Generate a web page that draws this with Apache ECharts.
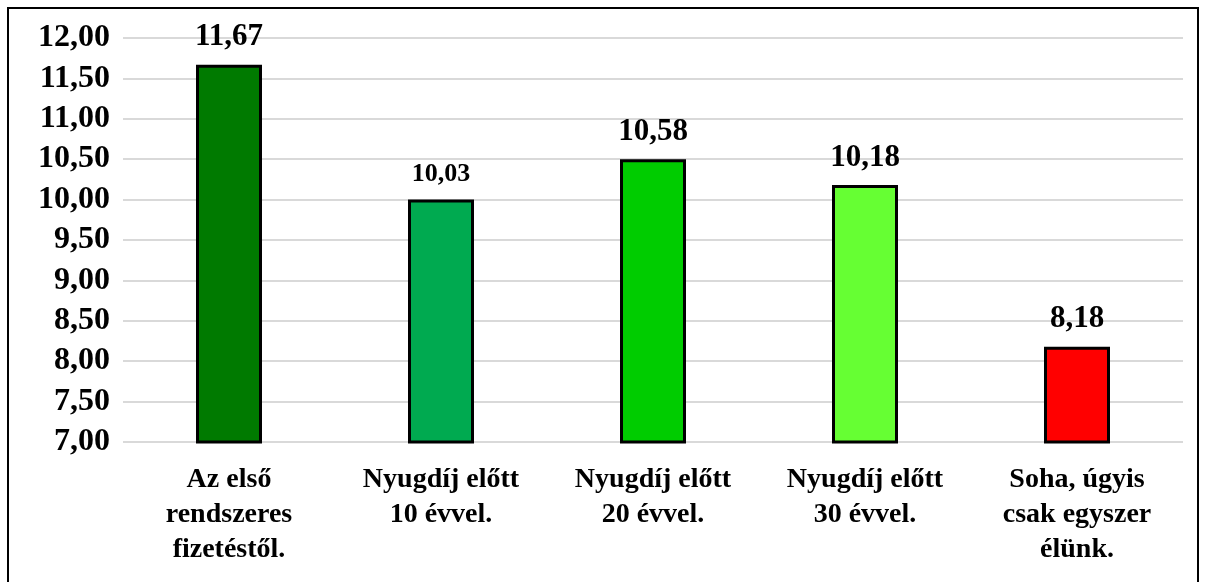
<!DOCTYPE html>
<html>
<head>
<meta charset="utf-8">
<script src="https://cdn.jsdelivr.net/npm/echarts@6/dist/echarts.min.js"></script>
<style>
html,body{margin:0;padding:0;background:#fff;}
#frame{position:absolute;left:7px;top:7px;width:1192px;height:590px;border:2px solid #000;box-sizing:border-box;}
#chart{position:absolute;left:0;top:0;width:1209px;height:582px;}
</style>
</head>
<body>
<div id="frame"></div>
<div id="chart"></div>
<script>
const categories = ['Az első\nrendszeres\nfizetéstől.', 'Nyugdíj előtt\n10 évvel.', 'Nyugdíj előtt\n20 évvel.', 'Nyugdíj előtt\n30 évvel.', 'Soha, úgyis\ncsak egyszer\nélünk.'];
const values = [11.67, 10.00, 10.50, 10.18, 8.18];
const valueLabels = ['11,67', '10,03', '10,58', '10,18', '8,18'];
const labelSizes = [31, 26, 31, 31, 31];
const barColors = ['#007A00', '#00AA50', '#00CC00', '#66FF33', '#FF0000'];

const chart = echarts.init(document.getElementById('chart'));
chart.setOption({
  animation: false,
  grid: { left: 123, right: 26, top: 38, bottom: 140, containLabel: false },
  xAxis: {
    type: 'category',
    data: categories,
    axisLine: { show: false },
    axisTick: { show: false },
    axisLabel: {
      interval: 0,
      margin: 20,
      fontFamily: 'Liberation Serif',
      fontWeight: 'bold',
      fontSize: 28,
      lineHeight: 35,
      color: '#000'
    }
  },
  yAxis: {
    type: 'value',
    min: 7,
    max: 12,
    interval: 0.5,
    axisLine: { show: false },
    axisTick: { show: false },
    splitLine: { lineStyle: { color: '#D9D9D9', width: 2 } },
    axisLabel: {
      margin: 13,
      fontFamily: 'Liberation Serif',
      fontWeight: 'bold',
      fontSize: 32,
      color: '#000',
      formatter: v => v.toFixed(2).replace('.', ',')
    }
  },
  series: [{
    type: 'bar',
    barWidth: 66,
    data: values.map((v, i) => ({
      value: v,
      itemStyle: { color: barColors[i], borderColor: '#000', borderWidth: 3 },
      label: {
        show: true,
        position: 'top',
        distance: 12,
        formatter: valueLabels[i],
        fontFamily: 'Liberation Serif',
        fontWeight: 'bold',
        fontSize: labelSizes[i],
        color: '#000'
      }
    }))
  }]
});
</script>
</body>
</html>
